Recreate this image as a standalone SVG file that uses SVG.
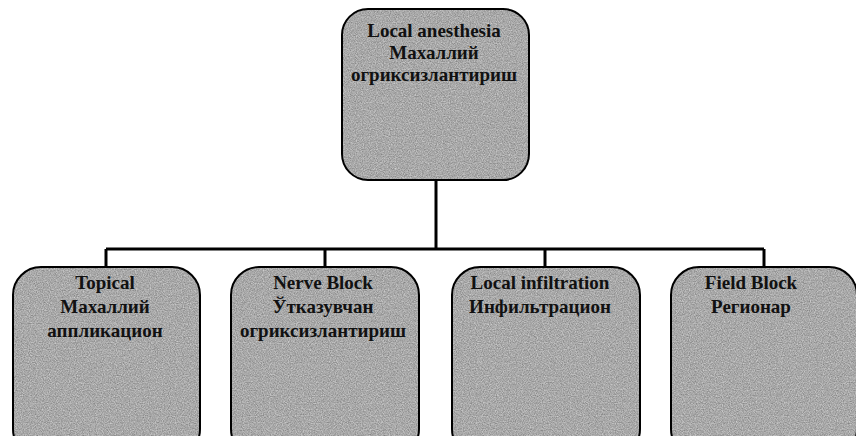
<svg xmlns="http://www.w3.org/2000/svg" width="856" height="436" viewBox="0 0 856 436">
  <style>
    .fill { fill: #aaa; filter: url(#grain); }
    .edge { fill: none; stroke: #000; stroke-width: 2; }
    .lbl { font-family: 'Liberation Serif', 'DejaVu Serif', 'Times New Roman', serif; font-size: 19px; font-weight: bold; fill: #111; text-anchor: middle; }
    .wire { fill: none; stroke: #000; stroke-width: 3; }
  </style>
  <defs>
    <!-- speckled grey fill, clipped to the shape it is applied to -->
    <filter id="grain" x="0" y="0" width="100%" height="100%" color-interpolation-filters="sRGB">
      <feTurbulence type="fractalNoise" baseFrequency="0.85" numOctaves="2" seed="7" result="noise"/>
      <feColorMatrix in="noise" type="matrix" values="0.4 0 0 0 0.46  0.4 0 0 0 0.46  0.4 0 0 0 0.46  0 0 0 0 1" result="grey"/>
      <feComposite in="grey" in2="SourceAlpha" operator="in"/>
    </filter>
  </defs>
  <rect width="856" height="436" fill="#fff"/>

  <!-- connectors: root down to a bus, bus down to each child -->
  <g id="connectors">
    <path class="wire" d="M436 180 V249"/>
    <path class="wire" d="M106 249 H764"/>
    <path class="wire" d="M106 249 V267"/>
    <path class="wire" d="M325 249 V267"/>
    <path class="wire" d="M545 249 V267"/>
    <path class="wire" d="M764 249 V267"/>
  </g>

  <g id="root">
    <rect class="fill" x="342" y="9" width="187" height="171" rx="26"/>
    <rect class="edge" x="342" y="9" width="187" height="171" rx="26"/>
    <text class="lbl" x="434" y="37">Local anesthesia</text>
    <text class="lbl" x="434" y="59">Махаллий</text>
    <text class="lbl" x="434" y="81">огриксизлантириш</text>
  </g>

  <g id="topical">
    <rect class="fill" x="13" y="267" width="187" height="190" rx="28"/>
    <rect class="edge" x="13" y="267" width="187" height="190" rx="28"/>
    <text class="lbl" x="105" y="289">Topical</text>
    <text class="lbl" x="105" y="313">Махаллий</text>
    <text class="lbl" x="105" y="337">аппликацион</text>
  </g>

  <g id="nerve-block">
    <rect class="fill" x="231" y="267" width="188" height="190" rx="28"/>
    <rect class="edge" x="231" y="267" width="188" height="190" rx="28"/>
    <text class="lbl" x="323" y="289">Nerve Block</text>
    <text class="lbl" x="323" y="313">Ўтказувчан</text>
    <text class="lbl" x="323" y="337">огриксизлантириш</text>
  </g>

  <g id="local-infiltration">
    <rect class="fill" x="452" y="267" width="188" height="190" rx="28"/>
    <rect class="edge" x="452" y="267" width="188" height="190" rx="28"/>
    <text class="lbl" x="540" y="289">Local infiltration</text>
    <text class="lbl" x="540" y="313">Инфильтрацион</text>
  </g>

  <g id="field-block">
    <rect class="fill" x="671" y="267" width="186" height="190" rx="28"/>
    <rect class="edge" x="671" y="267" width="186" height="190" rx="28"/>
    <text class="lbl" x="751" y="289">Field Block</text>
    <text class="lbl" x="751" y="313">Регионар</text>
  </g>
</svg>
